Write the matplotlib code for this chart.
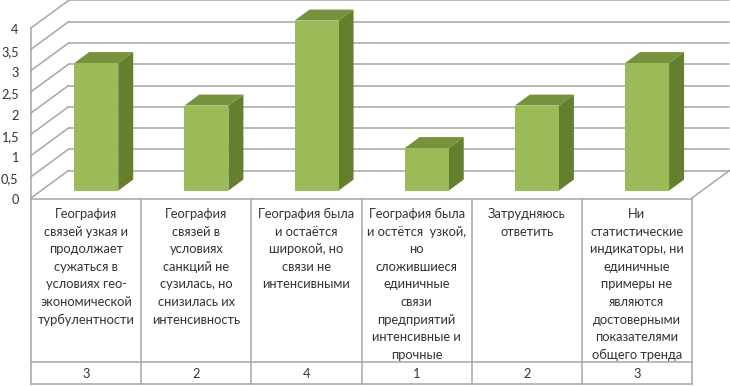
import matplotlib.pyplot as plt
from matplotlib.patches import Polygon

# -----------------------------------
# DATA
# -----------------------------------

values = [3, 2, 4, 1, 2, 3]
tick_values = [0, 0.5, 1, 1.5, 2, 2.5, 3, 3.5, 4]
tick_labels = ["0", "0,5", "1", "1,5", "2", "2,5", "3", "3,5", "4"]
categories = [
    "География\nсвязей узкая и\nпродолжает\nсужаться в\nусловиях гео-\nэкономической\nтурбулентности",
    "География\nсвязей в\nусловиях\nсанкций не\nсузилась, но\nснизилась их\nинтенсивность",
    "География была\nи остаётся\nширокой, но\nсвязи не\nинтенсивными",
    "География была\nи остётся  узкой,\nно\nсложившиеся\nединичные\nсвязи\nпредприятий\nинтенсивные и\nпрочные",
    "Затрудняюсь\nответить",
    "Ни\nстатистические\nиндикаторы, ни\nединичные\nпримеры не\nявляются\nдостоверными\nпоказателями\nобщего тренда",
]

# -----------------------------------
# LAYOUT (pixels of the 730x386 image)
# -----------------------------------

W, H = 730, 386
LEFT, RIGHT = 31, 692
BASE, TOP = 198, 28
DEPTH_PX = (37.5, 27.5)

GRID = "#a6a6a6"
TEXT = "#333333"
FONT = ["Lato", "Open Sans", "DejaVu Sans"]

plt.rcParams["font.family"] = FONT

fig = plt.figure(figsize=(W / 100, H / 100), dpi=100)
ax = fig.add_axes([LEFT / W, 1 - BASE / H, (RIGHT - LEFT) / W, (BASE - TOP) / H])
ax.set_xlim(0, len(values))
ax.set_ylim(0, 4)
ax.axis("off")

unit_x = (RIGHT - LEFT) / len(values)
unit_y = (BASE - TOP) / 4
dx = DEPTH_PX[0] / unit_x
dy = DEPTH_PX[1] / unit_y


def proj(x, v, d):
    # oblique projection: d=0 is the front plane, d=1 the back wall
    return x + d * dx, v + d * dy


def line(p, q, **kw):
    ax.plot([p[0], q[0]], [p[1], q[1]], color=GRID, lw=1.1, clip_on=False, **kw)


n = len(values)

# walls
for v in tick_values:
    line(proj(0, v, 0), proj(0, v, 1), zorder=1)
    line(proj(0, v, 1), proj(n, v, 1), zorder=1)
line(proj(0, 0, 0), proj(0, 4, 0), zorder=1)
line(proj(n, 0, 0), proj(n, 0, 1), zorder=1)

# bars
d0, d1 = 0.27, 0.67
for i, v in enumerate(values):
    x0, x1 = i + 0.3, i + 0.7
    top = [proj(x0, v, d0), proj(x1, v, d0), proj(x1, v, d1), proj(x0, v, d1)]
    side = [proj(x1, 0, d0), proj(x1, v, d0), proj(x1, v, d1), proj(x1, 0, d1)]
    front = [proj(x0, 0, d0), proj(x1, 0, d0), proj(x1, v, d0), proj(x0, v, d0)]
    ax.add_patch(Polygon(side, fc="#64802f", ec="none", zorder=3, clip_on=False))
    ax.add_patch(Polygon(top, fc="#76923c", ec="none", zorder=3, clip_on=False))
    ax.add_patch(Polygon(front, fc="#9bbb59", ec="none", zorder=4, clip_on=False))

# value axis labels
for v, label in zip(tick_values, tick_labels):
    ax.annotate(label, (0, v), xytext=(18.5, H - (BASE - v * unit_y) - 2.5),
                xycoords="data", textcoords="figure pixels",
                ha="right", va="center", fontsize=9.2, color=TEXT)

# -----------------------------------
# DATA TABLE
# -----------------------------------

ROW_TOP, ROW_MID, ROW_BOTTOM = 199, 361.5, 383.5
tb = fig.add_axes([LEFT / W, 1 - ROW_BOTTOM / H, (RIGHT - LEFT) / W, (ROW_BOTTOM - ROW_TOP) / H])
tb.set_xlim(0, n)
tb.set_ylim(ROW_BOTTOM, ROW_TOP)
tb.axis("off")

for y in [ROW_TOP, ROW_MID, ROW_BOTTOM]:
    tb.plot([0, n], [y, y], color=GRID, lw=1.1, clip_on=False)
for x in range(n + 1):
    tb.plot([x, x], [ROW_TOP, ROW_BOTTOM], color=GRID, lw=1.1, clip_on=False)

for i, (cat, v) in enumerate(zip(categories, values)):
    for j, text in enumerate(cat.split("\n")):
        tb.text(i + 0.5, 214 + j * 17.6, text, ha="center", va="center",
                fontsize=9.3, color=TEXT)
    tb.text(i + 0.5, 373.5, str(v), ha="center", va="center", fontsize=9.3, color=TEXT)

fig.savefig("out.png", dpi=100)
plt.close()
